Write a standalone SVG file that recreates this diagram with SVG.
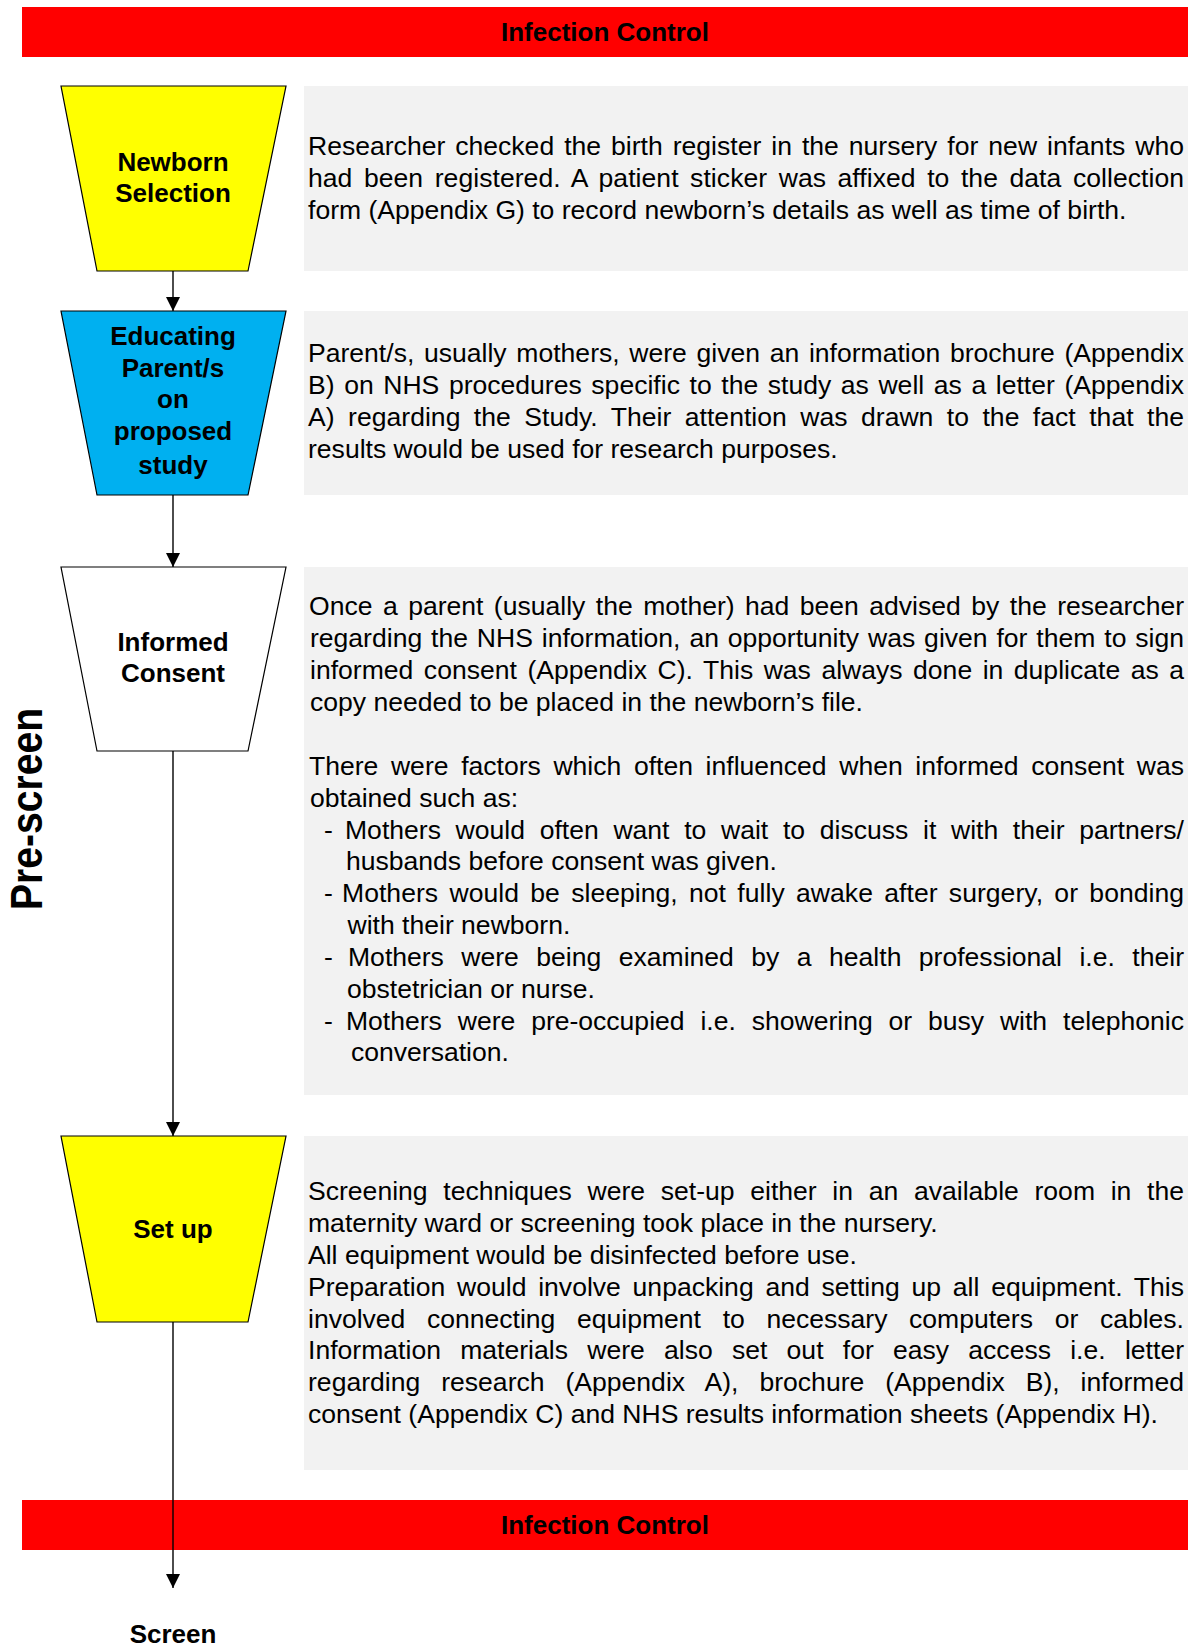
<svg xmlns="http://www.w3.org/2000/svg" width="1190" height="1647" viewBox="0 0 1190 1647">
<style>
.band{fill:#FF0000}
.desc{fill:#F2F2F2}
.trap{stroke:#000;stroke-width:1.2}
.conn{stroke:#000;stroke-width:1.4;fill:none}
.body{font-family:"Liberation Sans",Arial,sans-serif;font-size:26.55px;fill:#000}
.lbl{font-family:"Liberation Sans",Arial,sans-serif;font-size:26px;font-weight:bold;fill:#000;text-anchor:middle}
</style>
<defs>
<marker id="arr" viewBox="0 0 14 14" refX="14" refY="7" markerWidth="14" markerHeight="14" markerUnits="userSpaceOnUse" orient="auto">
<path d="M0,0 L14,7 L0,14 z" fill="#000"/>
</marker>
</defs>
<rect width="1190" height="1647" fill="#fff"/>

<g id="infection-top">
<rect class="band" x="22" y="7" width="1166" height="50"/>
<text class="lbl" x="605" y="41">Infection Control</text>
</g>

<g id="prescreen">
<text class="lbl" transform="translate(42,910) rotate(-90)" style="text-anchor:start;font-size:44px" textLength="202" lengthAdjust="spacingAndGlyphs">Pre-screen</text>
</g>

<g id="desc-newborn">
<rect class="desc" x="304" y="86" width="884" height="185"/>
<text class="body" x="308" y="155" style="word-spacing:2.6px" textLength="876">Researcher checked the birth register in the nursery for new infants who</text>
<text class="body" x="308" y="187" style="word-spacing:4.1px" textLength="876">had been registered. A patient sticker was affixed to the data collection</text>
<text class="body" x="308" y="219">form (Appendix G) to record newborn’s details as well as time of birth.</text>
</g>

<g id="desc-educating">
<rect class="desc" x="304" y="311" width="884" height="184"/>
<text class="body" x="308" y="362" style="word-spacing:2.3px" textLength="876">Parent/s, usually mothers, were given an information brochure (Appendix</text>
<text class="body" x="308" y="394" style="word-spacing:2.2px" textLength="876">B) on NHS procedures specific to the study as well as a letter (Appendix</text>
<text class="body" x="308" y="426" style="word-spacing:6px" textLength="876">A) regarding the Study. Their attention was drawn to the fact that the</text>
<text class="body" x="308" y="458">results would be used for research purposes.</text>
</g>

<g id="desc-consent">
<rect class="desc" x="304" y="567" width="884" height="528"/>
<text class="body" x="309" y="615" style="word-spacing:3.1px" textLength="875">Once a parent (usually the mother) had been advised by the researcher</text>
<text class="body" x="310" y="647" style="word-spacing:1.5px" textLength="874">regarding the NHS information, an opportunity was given for them to sign</text>
<text class="body" x="310" y="679" style="word-spacing:3.1px" textLength="874">informed consent (Appendix C). This was always done in duplicate as a</text>
<text class="body" x="310" y="711">copy needed to be placed in the newborn’s file.</text>
<text class="body" x="309" y="775" style="word-spacing:5.3px" textLength="875">There were factors which often influenced when informed consent was</text>
<text class="body" x="310" y="807">obtained such as:</text>
<text class="body" x="324" y="839">-</text>
<text class="body" x="345" y="839" style="word-spacing:7.3px" textLength="839">Mothers would often want to wait to discuss it with their partners/</text>
<text class="body" x="346" y="870">husbands before consent was given.</text>
<text class="body" x="324" y="902">-</text>
<text class="body" x="342" y="902" style="word-spacing:3.9px" textLength="842">Mothers would be sleeping, not fully awake after surgery, or bonding</text>
<text class="body" x="347.5" y="934">with their newborn.</text>
<text class="body" x="324" y="966">-</text>
<text class="body" x="348" y="966" style="word-spacing:10.1px" textLength="836">Mothers were being examined by a health professional i.e. their</text>
<text class="body" x="347" y="998">obstetrician or nurse.</text>
<text class="body" x="324" y="1030">-</text>
<text class="body" x="346" y="1030" style="word-spacing:8.5px" textLength="838">Mothers were pre-occupied i.e. showering or busy with telephonic</text>
<text class="body" x="351" y="1061">conversation.</text>
</g>

<g id="desc-setup">
<rect class="desc" x="304" y="1136" width="884" height="334"/>
<text class="body" x="308" y="1200" style="word-spacing:8.3px" textLength="876">Screening techniques were set-up either in an available room in the</text>
<text class="body" x="308" y="1232">maternity ward or screening took place in the nursery.</text>
<text class="body" x="308" y="1264">All equipment would be disinfected before use.</text>
<text class="body" x="308" y="1296" style="word-spacing:4.4px" textLength="876">Preparation would involve unpacking and setting up all equipment. This</text>
<text class="body" x="308" y="1328" style="word-spacing:14.3px" textLength="876">involved connecting equipment to necessary computers or cables.</text>
<text class="body" x="308" y="1359" style="word-spacing:11.8px" textLength="876">Information materials were also set out for easy access i.e. letter</text>
<text class="body" x="308" y="1391" style="word-spacing:13.5px" textLength="876">regarding research (Appendix A), brochure (Appendix B), informed</text>
<text class="body" x="308" y="1423">consent (Appendix C) and NHS results information sheets (Appendix H).</text>
</g>

<g id="infection-bottom">
<rect class="band" x="22" y="1500" width="1166" height="50"/>
<text class="lbl" x="605" y="1534">Infection Control</text>
</g>

<g id="node-newborn">
<polygon class="trap" fill="#FFFF00" points="61,86 286,86 248,271 97,271"/>
<text class="lbl" x="173" y="171">Newborn</text>
<text class="lbl" x="173" y="202">Selection</text>
</g>

<g id="node-educating">
<polygon class="trap" fill="#00B0F0" points="61,311 286,311 248,495 97,495"/>
<text class="lbl" x="173" y="345">Educating</text>
<text class="lbl" x="173" y="377">Parent/s</text>
<text class="lbl" x="173" y="408">on</text>
<text class="lbl" x="173" y="440">proposed</text>
<text class="lbl" x="173" y="474">study</text>
</g>

<g id="node-consent">
<polygon class="trap" fill="#FFFFFF" points="61,567 286,567 248,751 97,751"/>
<text class="lbl" x="173" y="651">Informed</text>
<text class="lbl" x="173" y="682">Consent</text>
</g>

<g id="node-setup">
<polygon class="trap" fill="#FFFF00" points="61,1136 286,1136 248,1322 97,1322"/>
<text class="lbl" x="173" y="1238">Set up</text>
</g>

<g id="node-screen">
<text class="lbl" x="173" y="1643">Screen</text>
</g>

<g id="connectors">
<line class="conn" x1="173" y1="271" x2="173" y2="311" marker-end="url(#arr)"/>
<line class="conn" x1="173" y1="495" x2="173" y2="567" marker-end="url(#arr)"/>
<line class="conn" x1="173" y1="751" x2="173" y2="1136" marker-end="url(#arr)"/>
<line class="conn" x1="173" y1="1322" x2="173" y2="1588" marker-end="url(#arr)"/>
</g>
</svg>
